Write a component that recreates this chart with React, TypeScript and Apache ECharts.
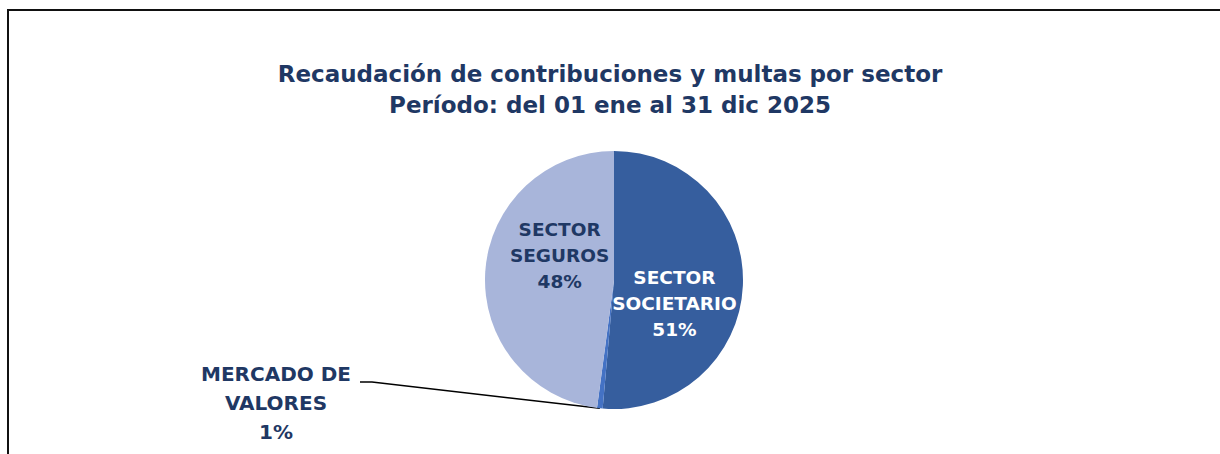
import React, { useEffect, useRef } from "react";
import * as echarts from "echarts";

const titleLines = [
  "Recaudación de contribuciones y multas por sector",
  "Período: del 01 ene al 31 dic 2025",
];
const sectors = ["SECTOR\nSOCIETARIO", "MERCADO DE\nVALORES", "SECTOR\nSEGUROS"];
const shares = [51.4, 0.7, 47.9];
const sliceColors = ["#365E9E", "#4472C4", "#A8B5DA"];
const labelColors = ["#FFFFFF", "#1F3864", "#1F3864"];

const FONT = "'DejaVu Sans', sans-serif";
const NAVY = "#1F3864";

export default function App() {
  const ref = useRef<HTMLDivElement>(null);
  useEffect(() => {
    if (!ref.current) return;
    const chart = echarts.init(ref.current, undefined, { renderer: "svg" });
    const offsets: Record<number, [number, number]> = {
      0: [-7, 21],
      2: [13, -20],
    };
    chart.setOption({
      animation: false,
      backgroundColor: "#FFFFFF",
      title: {
        text: titleLines.join("\n"),
        left: "center",
        top: 53,
        textStyle: {
          fontFamily: FONT,
          fontWeight: "bold",
          fontSize: 23,
          lineHeight: 31,
          color: NAVY,
        },
      },
      graphic: [
        {
          type: "line",
          shape: { x1: 7, y1: 10, x2: 1220, y2: 10 },
          style: { stroke: "#111", lineWidth: 2 },
        },
        {
          type: "line",
          shape: { x1: 8, y1: 9, x2: 8, y2: 454 },
          style: { stroke: "#111", lineWidth: 2 },
        },
      ],
      series: [
        {
          type: "pie",
          center: [614, 280],
          radius: [0, 129],
          startAngle: 90,
          clockwise: true,
          avoidLabelOverlap: false,
          itemStyle: { borderWidth: 0 },
          emphasis: { disabled: true },
          label: {
            position: "inside",
            fontFamily: FONT,
            fontWeight: "bold",
            fontSize: 18.5,
            lineHeight: 26,
            formatter: (p: any) => `${p.name}\n${Math.round(p.percent)}%`,
          },
          labelLayout: (p: any) => {
            if (p.dataIndex === 1) {
              const pts = p.labelLinePoints;
              const start = pts ? pts[0] : [599, 408];
              const lx = 276;
              const ly = 359;
              const lineY = 382;
              const rightX = 360;
              return {
                x: lx,
                y: ly,
                align: "center",
                verticalAlign: "top",
                labelLinePoints: [start, [rightX + 12, lineY], [rightX, lineY]],
              };
            }
            const o = offsets[p.dataIndex] || [0, 0];
            return { dx: o[0], dy: o[1] };
          },
          data: sectors.map((name, i) => ({
            name,
            value: shares[i],
            itemStyle: { color: sliceColors[i] },
            label:
              i === 1
                ? {
                    position: "outside",
                    color: labelColors[i],
                    fontSize: 20,
                    lineHeight: 29,
                  }
                : { color: labelColors[i] },
            labelLine:
              i === 1
                ? {
                    show: true,
                    length: 20,
                    length2: 20,
                    lineStyle: { color: "#000", width: 1.5 },
                  }
                : { show: false },
          })),
        },
      ],
    });
    return () => chart.dispose();
  }, []);
  return (
    <div
      ref={ref}
      style={{ position: "absolute", left: 0, top: 0, width: 1220, height: 454 }}
    />
  );
}
